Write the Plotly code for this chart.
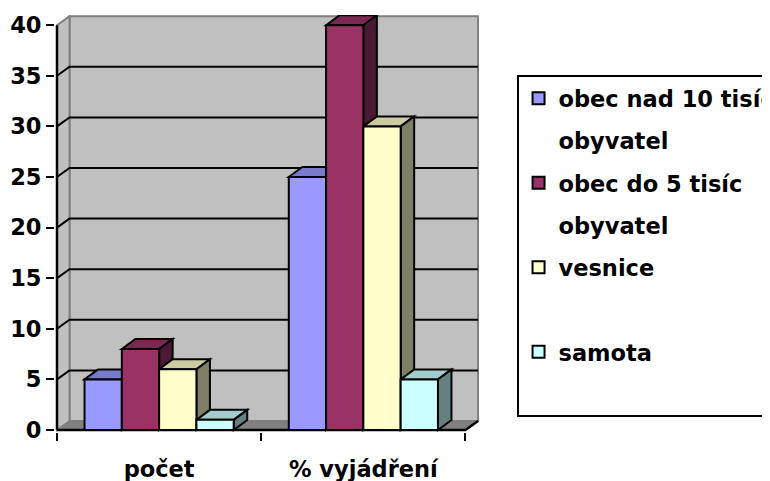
import plotly.graph_objects as go

# ---------------- data ----------------
categories = ["počet", "% vyjádření"]
series_names = ["obec nad 10 tisíc", "obec do 5 tisíc", "vesnice", "samota"]
legend_second_lines = ["obyvatel", "obyvatel", " ", " "]
obec_nad_10_tisic = [5, 25]
obec_do_5_tisic = [8, 40]
vesnice = [6, 30]
samota = [1, 5]
y_ticks = [0, 5, 10, 15, 20, 25, 30, 35, 40]

series_values = [obec_nad_10_tisic, obec_do_5_tisic, vesnice, samota]
colors = ["#9999FF", "#993366", "#FFFFCC", "#CCFFFF"]

# ---------------- geometry ----------------
OFF = 8                      # page body margin of the html page
FIG_W, FIG_H = 770 - OFF, 481 - OFF
PX_PER_CAT = 204.0
PX_PER_UNIT = 10.125
BAR_W = 37.25 / PX_PER_CAT
GROUP_W = 4 * BAR_W
BAR_DX, BAR_DY = 13.5 / PX_PER_CAT, 10.0 / PX_PER_UNIT
WALL_DX, WALL_DY = 12.5 / PX_PER_CAT, 9.0 / PX_PER_UNIT
x_pos = list(range(len(categories)))
X_L, X_R = -0.5, len(categories) - 0.5
Y_TOP = y_ticks[-1]
XMIN, XMAX = X_L - 2 / PX_PER_CAT, X_R + BAR_DX
YMIN, YMAX = -0.2, Y_TOP + BAR_DY + 0.02

ML = 57 - OFF - 2
PLOT_W = (XMAX - XMIN) * PX_PER_CAT
PLOT_H = (YMAX - YMIN) * PX_PER_UNIT
PLOT_BOTTOM = 430 - OFF + (0 - YMIN) * PX_PER_UNIT
MB = FIG_H - PLOT_BOTTOM
MT = FIG_H - MB - PLOT_H
MR = FIG_W - ML - PLOT_W

LEG_LEFT, LEG_TOP = 516 - OFF, 75 - OFF

FONT = dict(family="DejaVu Sans", size=22.5, color="black", weight="bold")


def shade(hexcol, f):
    h = hexcol.lstrip("#")
    r, g, b = (int(h[k:k + 2], 16) for k in (0, 2, 4))
    return "#%02X%02X%02X" % (int(r * f), int(g * f), int(b * f))


def poly(pts):
    return "M" + " L".join(f"{x:.5f},{y:.5f}" for x, y in pts) + " Z"


def pline(pts):
    return "M" + " L".join(f"{x:.5f},{y:.5f}" for x, y in pts)


shapes = []
# back wall
shapes.append(dict(type="path", xref="x", yref="y", layer="below",
                   path=poly([(X_L + WALL_DX, WALL_DY), (X_L + WALL_DX, Y_TOP + WALL_DY),
                              (X_R + WALL_DX, Y_TOP + WALL_DY), (X_R + WALL_DX, WALL_DY)]),
                   fillcolor="#C0C0C0", line=dict(color="#808080", width=2)))
# left wall
shapes.append(dict(type="path", xref="x", yref="y", layer="below",
                   path=poly([(X_L, 0), (X_L, Y_TOP), (X_L + WALL_DX, Y_TOP + WALL_DY),
                              (X_L + WALL_DX, WALL_DY)]),
                   fillcolor="#C0C0C0", line=dict(color="#808080", width=2)))
# floor
shapes.append(dict(type="path", xref="x", yref="y", layer="below",
                   path=poly([(X_L, 0), (X_R, 0), (X_R + WALL_DX, WALL_DY), (X_L + WALL_DX, WALL_DY)]),
                   fillcolor="#808080", line=dict(color="#808080", width=1)))
# gridlines on walls
for v in y_ticks[1:-1]:
    shapes.append(dict(type="path", xref="x", yref="y", layer="below",
                       path=pline([(X_L, v), (X_L + WALL_DX, v + WALL_DY), (X_R + WALL_DX, v + WALL_DY)]),
                       line=dict(color="black", width=2)))
# axis lines
shapes.append(dict(type="path", xref="x", yref="y", layer="below",
                   path=pline([(X_L, 0), (X_R, 0), (X_R + WALL_DX, WALL_DY)]),
                   line=dict(color="black", width=2.5)))
shapes.append(dict(type="path", xref="x", yref="y", layer="below",
                   path=pline([(X_L, 0), (X_L, Y_TOP)]),
                   line=dict(color="black", width=2.5)))

# 3D top and side faces of the bars
for j in range(len(categories)):
    for i, vals in enumerate(series_values):
        v = vals[j]
        x0 = x_pos[j] - GROUP_W / 2 + i * BAR_W
        x1 = x0 + BAR_W
        shapes.append(dict(type="path", xref="x", yref="y", layer="below",
                           path=poly([(x0, v), (x0 + BAR_DX, v + BAR_DY), (x1 + BAR_DX, v + BAR_DY), (x1, v)]),
                           fillcolor=shade(colors[i], 0.8), line=dict(color="black", width=2)))
        shapes.append(dict(type="path", xref="x", yref="y", layer="below",
                           path=poly([(x1, 0), (x1, v), (x1 + BAR_DX, v + BAR_DY), (x1 + BAR_DX, BAR_DY)]),
                           fillcolor=shade(colors[i], 0.5), line=dict(color="black", width=2)))

fig = go.Figure()
for i, (name, vals) in enumerate(zip(series_names, series_values)):
    fig.add_trace(go.Bar(
        x=x_pos, y=vals, name=name, width=BAR_W, offset=-GROUP_W / 2 + i * BAR_W,
        marker=dict(color=colors[i], line=dict(color="black", width=2)),
        legendgroup=f"g{2 * i}",
    ))
    fig.add_trace(go.Scatter(
        x=[None], y=[None], mode="markers", name=legend_second_lines[i],
        marker=dict(color="rgba(0,0,0,0)", size=1), legendgroup=f"g{2 * i + 1}",
        hoverinfo="skip", showlegend=True,
    ))

fig.update_layout(
    width=FIG_W, height=FIG_H,
    margin=dict(l=ML, r=MR, t=MT, b=MB, autoexpand=False),
    paper_bgcolor="white", plot_bgcolor="white",
    barmode="overlay",
    shapes=shapes,
    font=FONT,
    legend=dict(xref="paper", yref="paper",
                x=(LEG_LEFT - ML) / PLOT_W, y=(PLOT_BOTTOM - LEG_TOP) / PLOT_H,
                xanchor="left", yanchor="top", bordercolor="black", borderwidth=2,
                bgcolor="white", font=FONT, tracegroupgap=10, traceorder="grouped"),
    xaxis=dict(range=[XMIN, XMAX], showgrid=False, zeroline=False, showline=False,
               tickvals=x_pos, ticktext=categories, ticks="outside", ticklen=17,
               tickcolor="rgba(0,0,0,0)", tickfont=FONT,
               minor=dict(tickvals=[X_L + k for k in range(len(categories) + 1)], ticks="outside",
                          ticklen=8, tickwidth=2, tickcolor="black", showgrid=False)),
    yaxis=dict(range=[YMIN, YMAX], showgrid=False, zeroline=False, showline=False,
               tickvals=y_ticks, ticks="outside", ticklen=8, tickwidth=2, tickcolor="black",
               tickfont=FONT),
)

fig.write_html("out.html")
